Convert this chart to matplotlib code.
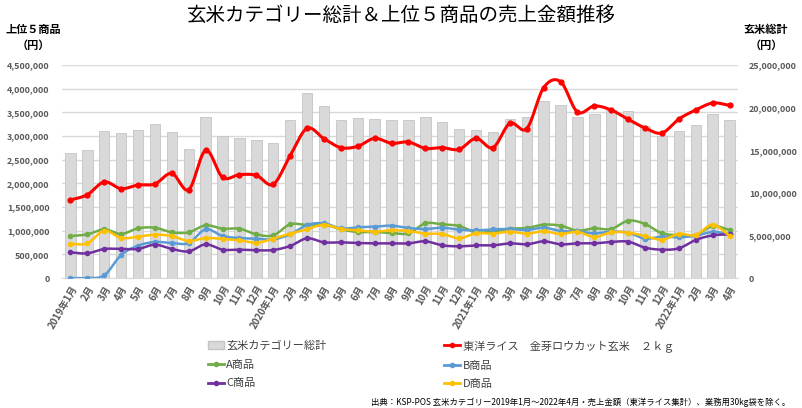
import numpy as np
import matplotlib
matplotlib.use("Agg")
import matplotlib.pyplot as plt
from matplotlib.patches import Patch
from matplotlib.lines import Line2D
from matplotlib.ticker import FuncFormatter

plt.rcParams['font.family'] = ['Noto Sans CJK JP', 'DejaVu Sans']

# ------------------------------------------
# data (yen)
# ------------------------------------------
months = ["2019年1月", "2月", "3月", "4月", "5月", "6月", "7月", "8月", "9月", "10月", "11月", "12月",
          "2020年1月", "2月", "3月", "4月", "5月", "6月", "7月", "8月", "9月", "10月", "11月", "12月",
          "2021年1月", "2月", "3月", "4月", "5月", "6月", "7月", "8月", "9月", "10月", "11月", "12月",
          "2022年1月", "2月", "3月", "4月"]

# category total (right axis), million yen
total = [14.64, 15.02, 17.29, 17.05, 17.37, 18.04, 17.14, 15.10, 18.86, 16.70, 16.47, 16.20,
         15.81, 18.51, 21.67, 20.19, 18.54, 18.78, 18.62, 18.58, 18.54, 18.93, 18.31, 17.53,
         17.41, 17.14, 18.66, 18.86, 20.81, 20.34, 18.86, 19.29, 19.72, 19.56, 17.81, 16.70,
         17.25, 17.92, 19.21, 18.54]

# top products (left axis), thousand yen
toyo = [1648, 1760, 2030, 1887, 1965, 1986, 2211, 1866, 2697, 2127, 2183, 2169,
        1979, 2585, 3162, 2944, 2754, 2782, 2951, 2845, 2873, 2739, 2754, 2718,
        2951, 2754, 3268, 3155, 4021, 4148, 3507, 3634, 3549, 3352, 3169, 3063,
        3359, 3549, 3697, 3648]
prod_a = [887, 922, 1028, 930, 1049, 1063, 965, 965, 1113, 1042, 1042, 922,
          901, 1134, 1120, 1130, 1028, 972, 972, 951, 944, 1155, 1134, 1098,
          965, 979, 1042, 1056, 1127, 1106, 1000, 1049, 1035, 1211, 1141, 944,
          908, 908, 1098, 1014]
prod_b = [0, 0, 56, 486, 683, 761, 739, 739, 1028, 887, 845, 831,
          817, 922, 1120, 1155, 1049, 1070, 1084, 1106, 1056, 1035, 1063, 1021,
          1007, 1028, 1035, 1014, 1063, 993, 983, 944, 979, 958, 831, 873,
          859, 894, 972, 930]
prod_c = [542, 521, 613, 613, 613, 704, 613, 563, 711, 599, 599, 585,
          592, 676, 838, 753, 753, 739, 732, 732, 732, 775, 690, 669,
          690, 690, 732, 711, 775, 711, 732, 732, 761, 768, 641, 599,
          627, 803, 901, 922]
prod_d = [718, 732, 1000, 845, 873, 915, 887, 782, 845, 824, 796, 746,
          831, 937, 1028, 1127, 1035, 1007, 979, 1007, 993, 937, 930, 838,
          944, 937, 979, 937, 986, 930, 975, 866, 965, 958, 887, 810,
          930, 908, 1127, 894]

names = ["東洋ライス　金芽ロウカット玄米　２ｋｇ", "A商品", "B商品", "C商品", "D商品"]
colors = ["#ff0000", "#70ad47", "#5b9bd5", "#7030a0", "#ffc000"]


def smooth(x, y, n=12):
    # catmull-rom curve through the points (like excel smoothed lines)
    x = np.asarray(x, float)
    y = np.asarray(y, float)
    px = np.concatenate([[2 * x[0] - x[1]], x, [2 * x[-1] - x[-2]]])
    py = np.concatenate([[2 * y[0] - y[1]], y, [2 * y[-1] - y[-2]]])
    xs, ys = [], []
    t = np.linspace(0, 1, n, endpoint=False)
    for i in range(1, len(px) - 2):
        for p, out in ((px, xs), (py, ys)):
            p0, p1, p2, p3 = p[i - 1], p[i], p[i + 1], p[i + 2]
            out.extend(0.5 * (2 * p1 + (-p0 + p2) * t + (2 * p0 - 5 * p1 + 4 * p2 - p3) * t ** 2
                              + (-p0 + 3 * p1 - 3 * p2 + p3) * t ** 3))
    xs.append(x[-1])
    ys.append(y[-1])
    return np.array(xs), np.array(ys)


x = np.arange(len(months))
tick_col = "#595959"

fig = plt.figure(figsize=(8.02, 4.08), dpi=100)
ax = fig.add_axes([62 / 802, 1 - 278 / 408, 676 / 802, 213 / 408])
ax2 = ax.twinx()

# bars on right axis, drawn behind lines
ax2.bar(x, np.array(total) * 1e6, width=0.62, color="#d9d9d9", edgecolor="#c4c4c4", linewidth=0.6, zorder=2)
ax2.set_ylim(0, 25e6)
ax2.set_yticks(np.arange(0, 25e6 + 1, 5e6))
for v in np.arange(0, 4.5e6 + 1, 5e5):
    ax2.axhline(v * 25 / 4.5, color="#d9d9d9", linewidth=1, zorder=1)

ax.set_zorder(ax2.get_zorder() + 1)
ax.patch.set_visible(False)

series = [toyo, prod_a, prod_b, prod_c, prod_d]
for i, (vals, col) in enumerate(zip(series, colors)):
    vals = np.array(vals) * 1000
    sx, sy = smooth(x, vals)
    lw = 2.2 if i == 0 else 1.8
    ms = 3.5 if i == 0 else 3
    z = 10 if i == 0 else 5 + i
    ax.plot(sx, sy, color=col, linewidth=lw, zorder=z, solid_capstyle="round")
    ax.plot(x, vals, "o", color=col, markersize=ms, zorder=z)

ax.set_xlim(-0.5, len(months) - 0.5)
ax2.set_xlim(-0.5, len(months) - 0.5)
ax.set_ylim(0, 4.5e6)
ax.set_yticks(np.arange(0, 4.5e6 + 1, 5e5))

fmt = FuncFormatter(lambda v, p: f"{int(v):,}")
ax.yaxis.set_major_formatter(fmt)
ax2.yaxis.set_major_formatter(fmt)

for a in (ax, ax2):
    for s in a.spines.values():
        s.set_visible(False)
    a.tick_params(length=0, labelsize=6.4, labelcolor=tick_col)
ax.spines["bottom"].set_visible(True)
ax.spines["bottom"].set_color("#d9d9d9")
ax.tick_params(axis="y", pad=9)
ax2.tick_params(axis="y", pad=8)
for lab in ax.get_yticklabels() + ax2.get_yticklabels():
    lab.set_fontweight("bold")

ax.set_xticks(x)
ax.set_xticklabels(months, rotation=60, ha="right", rotation_mode="anchor",
                   fontsize=7, color=tick_col, fontweight="bold")
ax.tick_params(axis="x", pad=4)

# titles
fig.text(0.5, 0.962, "玄米カテゴリー総計＆上位５商品の売上金額推移", ha="center", va="center", fontsize=14)
fig.text(33 / 802, 1 - 37 / 408, "上位５商品\n（円）", ha="center", va="center", fontsize=8,
         fontweight="bold", linespacing=1.3)
fig.text(766 / 802, 1 - 37 / 408, "玄米総計\n（円）", ha="center", va="center", fontsize=8,
         fontweight="bold", linespacing=1.3)

# legend, two columns: [total, A, C] | [toyo, B, D]
def line_handle(c):
    return Line2D([], [], color=c, linewidth=2, marker="o", markersize=3)

handles = [Patch(facecolor="#d9d9d9", edgecolor="#c4c4c4"), line_handle(colors[1]), line_handle(colors[3]),
           line_handle(colors[0]), line_handle(colors[2]), line_handle(colors[4])]
labels = ["玄米カテゴリー総計", names[1], names[3], names[0], names[2], names[4]]

leg = fig.legend(handles, labels, ncol=2, loc="upper left", bbox_to_anchor=(208 / 802, 1 - 340 / 408),
                 frameon=False, fontsize=8, handlelength=1.45, handleheight=0.7, handletextpad=0.2,
                 labelspacing=0.78, columnspacing=10.6, borderaxespad=0, borderpad=0)
for t in leg.get_texts():
    t.set_color("#404040")

fig.text(790 / 802, 1 - 402 / 408,
         "出典：KSP-POS 玄米カテゴリー2019年1月～2022年4月・売上金額（東洋ライス集計）、業務用30kg袋を除く。",
         ha="right", va="center", fontsize=6)

fig.savefig("out.png", dpi=100)
